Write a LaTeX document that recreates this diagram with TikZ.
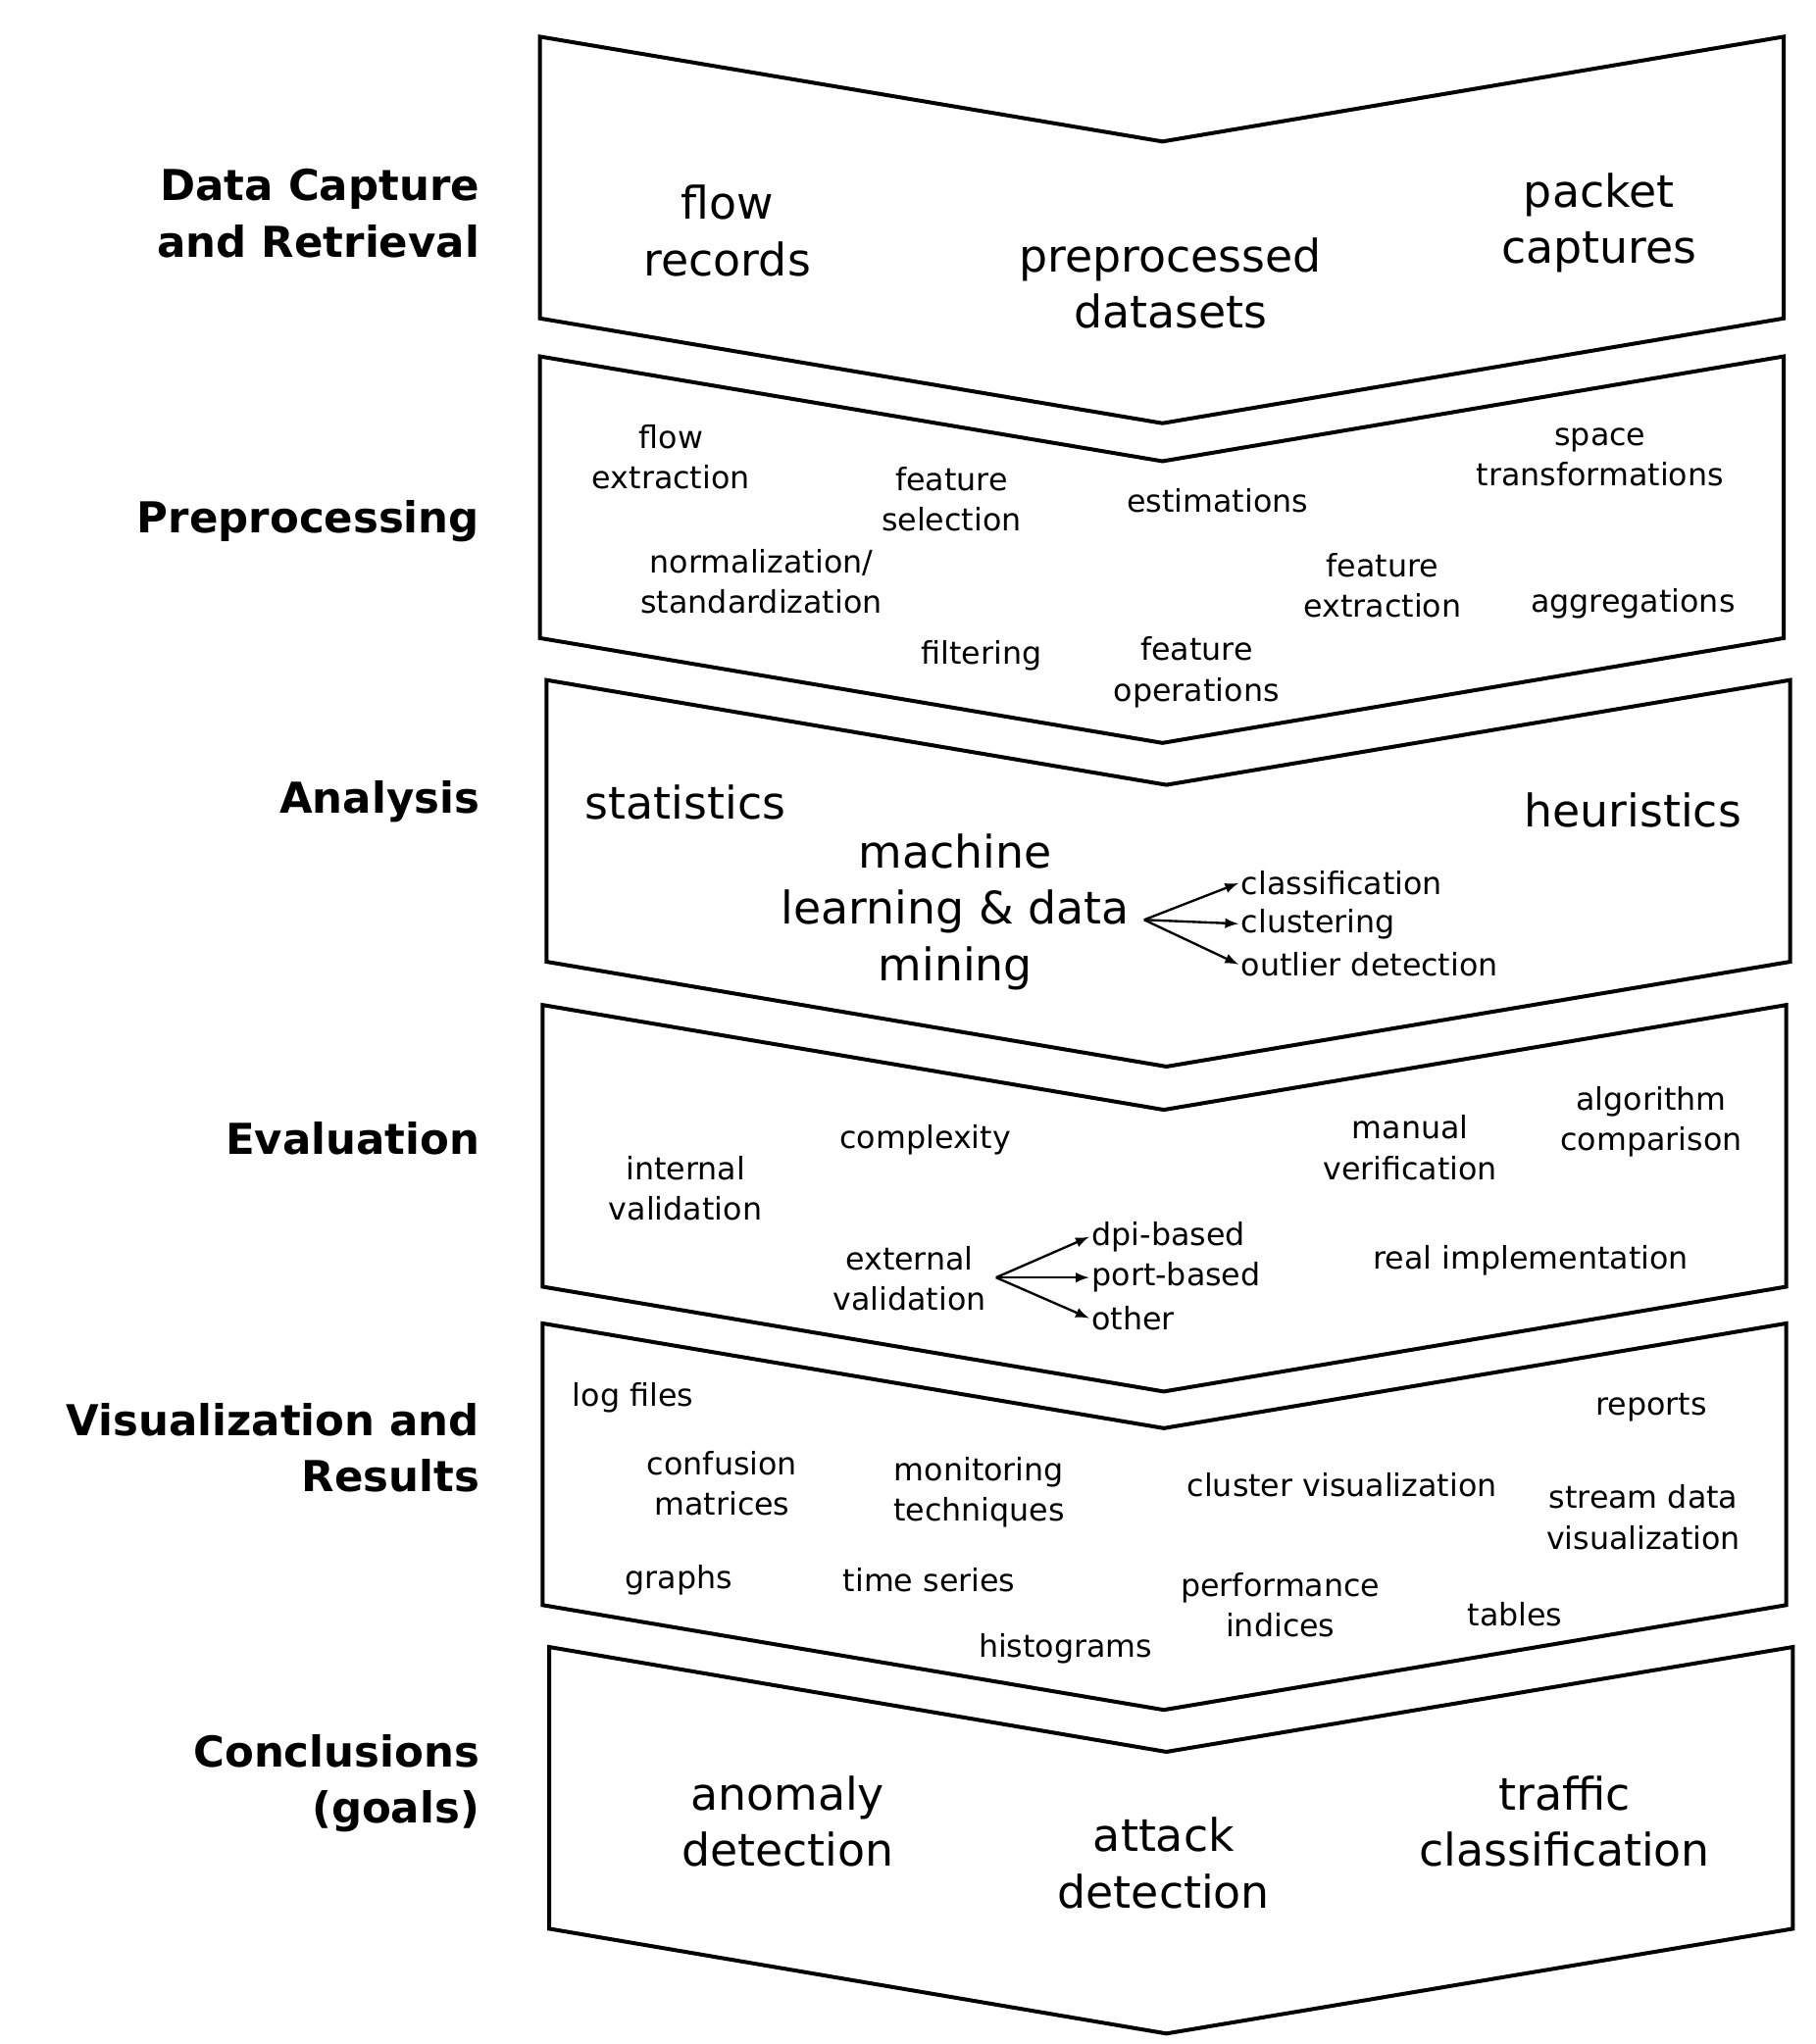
\documentclass[tikz,border=0pt]{standalone}
\usepackage{fontspec}
\setmainfont{DejaVu Sans}
\begin{document}
\begin{tikzpicture}[x=0.02cm,y=-0.02cm,
 chev/.style={draw=black,line width=1.7pt,line join=miter},
 big/.style={font=\fontsize{19.5}{24.5}\selectfont,align=center},
 sm/.style={font=\fontsize{13.5}{17.6}\selectfont,align=center},
 lab/.style={font=\bfseries\fontsize{18.5}{24.5}\selectfont,align=right,anchor=east},
 arr/.style={-latex,line width=1pt}]
\useasboundingbox (0,0) rectangle (1385,1560);
\fill[white] (0,0) rectangle (1385,1560);
\newcommand{\chv}[4]{\draw[chev] (#1,#2) -- (#3,#2+80) -- (#4,#2) -- (#4,#2+215) -- (#3,#2+295) -- (#1,#2+215) -- cycle;}
\chv{412}{28}{887}{1361}
\chv{412}{272}{887}{1361}
\chv{417}{519}{890}{1366}
\chv{414}{767}{888}{1363}
\chv{414}{1010}{888}{1363}
\chv{419}{1257}{890}{1368}
% labels
\node[lab] (l1) at (372,163) {Data Capture\\and Retrieval};
\node[lab] (l2) at (372,398) {Preprocessing};
\node[lab] (l3) at (372,612) {Analysis};
\node[lab] (l4) at (372,869) {Evaluation};
\node[lab] (l5) at (372,1105) {Visualization and\\Results};
\node[lab] (l6) at (372,1361) {Conclusions\\(goals)};
% 1
\node[big] (a1) at (555,176) {flow\\records};
\node[big] (a2) at (893,216) {preprocessed\\datasets};
\node[big] (a3) at (1220,170) {packet\\captures};
% 2
\node[sm] (b1) at (512,349) {flow\\extraction};
\node[sm] (b2) at (726,381) {feature\\selection};
\node[sm] (b3) at (929,382) {estimations};
\node[sm] (b4) at (1221,349) {space\\transformations};
\node[sm] (b5) at (581,444) {normalization/\\standardization};
\node[sm] (b6) at (1055,447) {feature\\extraction};
\node[sm] (b7) at (1246,461) {aggregations};
\node[sm] (b8) at (749,500) {filtering};
\node[sm] (b9) at (913,513) {feature\\operations};
% 3
\node[big] (c1) at (523,612) {statistics};
\node[big] (c2) at (1246,618) {heuristics};
\node[big] (c3) at (729,696) {machine\\learning \& data\\mining};
\coordinate (cs) at (873,702);
\node[sm,anchor=west,inner sep=1pt] (c4) at (945,674) {classification};
\node[sm,anchor=west,inner sep=1pt] (c5) at (945,705) {clustering};
\node[sm,anchor=west,inner sep=1pt] (c6) at (945,736) {outlier detection};
\draw[arr] (cs) -- (c4.west);
\draw[arr] (cs) -- (c5.west);
\draw[arr] (cs) -- (c6.west);
% 4
\node[sm] (d1) at (706,870) {complexity};
\node[sm] (d2) at (523,907) {internal\\validation};
\node[sm] (d3) at (1076,876) {manual\\verification};
\node[sm] (d4) at (1260,856) {algorithm\\comparison};
\node[sm] (d5) at (694,976) {external\\validation};
\coordinate (ds) at (760,975);
\node[sm,anchor=west,inner sep=1pt] (d6) at (831,944) {dpi-based};
\node[sm,anchor=west,inner sep=1pt] (d7) at (831,975) {port-based};
\node[sm,anchor=west,inner sep=1pt] (d8) at (831,1006) {other};
\draw[arr] (ds) -- (d6.west);
\draw[arr] (ds) -- (d7.west);
\draw[arr] (ds) -- (d8.west);
\node[sm] (d9) at (1168,962) {real implementation};
% 5
\node[sm] (e1) at (483,1067) {log files};
\node[sm] (e2) at (1260,1074) {reports};
\node[sm] (e3) at (551,1132) {confusion\\matrices};
\node[sm] (e4) at (747,1139) {monitoring\\techniques};
\node[sm] (e5) at (1024,1133) {cluster visualization};
\node[sm] (e6) at (1254,1158) {stream data\\visualization};
\node[sm] (e7) at (518,1206) {graphs};
\node[sm] (e8) at (709,1206) {time series};
\node[sm] (e9) at (977,1225) {performance\\indices};
\node[sm] (e10) at (1156,1232) {tables};
\node[sm] (e11) at (813,1258) {histograms};
% 6
\node[big] (f1) at (601,1390) {anomaly\\detection};
\node[big] (f2) at (888,1422) {attack\\detection};
\node[big] (f3) at (1194,1390) {traffic\\classification};
\end{tikzpicture}
\end{document}
